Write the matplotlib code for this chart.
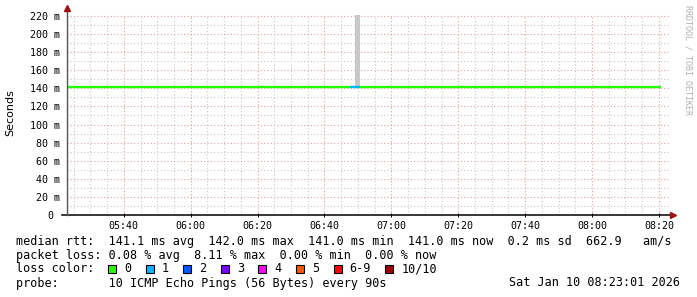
import matplotlib
matplotlib.use("Agg")
import matplotlib.pyplot as plt
from matplotlib.patches import Rectangle
from matplotlib.ticker import MultipleLocator, FuncFormatter

# ---- data ----
# step edges of the median rtt line (time of day), value and loss count per step
seg_edges = ["05:23:01", "06:46:00", "06:47:30", "06:50:30", "06:55:00", "08:20:30"]
seg_median = [141.0, 142.0, 142.0, 142.0, 141.0]   # ms
seg_loss = [0, 0, 1, 0, 0]                         # lost pings out of 10

# smoke (spread of the pings) - only one visible step
smoke_edges = ["06:49:00", "06:50:30"]
smoke_low = [142.0]
smoke_high = [260.0]

x_start, x_end = "05:23:01", "08:23:01"
y_ticks = [0, 20, 40, 60, 80, 100, 120, 140, 160, 180, 200, 220]
y_labels = ["0 "] + ["%d m" % v for v in y_ticks[1:]]

loss_labels = ["0", "1", "2", "3", "4", "5", "6-9", "10/10"]
loss_colors = ["#26ff00", "#00b8ff", "#0059ff", "#7e00ff", "#ff00ff", "#ff5500", "#ff0000", "#a10000"]

legend_rows = [
    "median rtt:  141.1 ms avg  142.0 ms max  141.0 ms min  141.0 ms now  0.2 ms sd  662.9   am/s",
    "packet loss: 0.08 % avg  8.11 % max  0.00 % min  0.00 % now",
    "loss color:",
    "probe:       10 ICMP Echo Pings (56 Bytes) every 90s",
]
stamp = "Sat Jan 10 08:23:01 2026"


def tmin(s):
    p = [int(v) for v in s.split(":")]
    return p[0] * 60 + p[1] + (p[2] / 60.0 if len(p) > 2 else 0)


W, H = 697, 297
fig = plt.figure(figsize=(W / 100, H / 100), dpi=100)
fig.patch.set_facecolor("white")
ax = fig.add_axes([67 / W, 82 / H, 602 / W, 200 / H])
mono = "DejaVu Sans Mono"

# smoke
for i in range(len(smoke_low)):
    ax.fill_between([tmin(smoke_edges[i]), tmin(smoke_edges[i + 1])], smoke_low[i], smoke_high[i],
                    color="#c8c8c8", lw=0, zorder=2)

# median line coloured by loss
for i, v in enumerate(seg_median):
    ax.hlines(v, tmin(seg_edges[i]), tmin(seg_edges[i + 1]), colors=loss_colors[seg_loss[i]],
              lw=1.7, zorder=3)

ax.set_xlim(tmin(x_start), tmin(x_end))
ax.set_ylim(0, 221.1)

ax.xaxis.set_major_locator(MultipleLocator(20))
ax.xaxis.set_minor_locator(MultipleLocator(5))
ax.xaxis.set_major_formatter(FuncFormatter(lambda v, p: "%02d:%02d" % (int(v) // 60, int(v) % 60)))
ax.set_yticks(y_ticks)
ax.set_yticklabels(y_labels)
ax.yaxis.set_minor_locator(MultipleLocator(10))

ax.grid(which="minor", color="#c8c8c8", ls=(0, (1, 2)), lw=0.8, zorder=0)
ax.grid(which="major", color="#e4a0a0", ls=(0, (1, 2)), lw=0.8, zorder=1)

ax.tick_params(axis="x", which="major", length=3, direction="inout", width=0.7, pad=3,
               labelsize=7.2, colors="black")
ax.tick_params(axis="x", which="minor", length=0)
ax.tick_params(axis="y", which="both", length=0, pad=5, labelsize=7.2)
for lab in ax.get_xticklabels() + ax.get_yticklabels():
    lab.set_family(mono)

for s in ax.spines.values():
    s.set_visible(False)

# axis lines with arrow heads
ax.plot([-5 / 602, 1.003], [0, 0], color="black", lw=1.1, transform=ax.transAxes, clip_on=False, zorder=5)
ax.plot([0, 0], [0, 1.025], color="#555555", lw=1.0, transform=ax.transAxes, clip_on=False, zorder=5)
ax.plot(1.006, 0, marker=">", ms=4, color="#a01010", transform=ax.transAxes, clip_on=False, zorder=6)
ax.plot(0, 1.033, marker="^", ms=4, color="#a01010", transform=ax.transAxes, clip_on=False, zorder=6)

fig.text(10 / W, 1 - 113 / H, "Seconds", rotation=90, ha="center", va="center", fontsize=8)
fig.text(688 / W, 1 - 5 / H, "RRDTOOL / TOBI OETIKER", rotation=270, ha="center", va="top",
         fontsize=6, family=mono, color="#b0b0b0")

# legend block
row_y = [241, 255, 269, 283]
for txt, y in zip(legend_rows, row_y):
    fig.text(16 / W, 1 - y / H, txt, family=mono, fontsize=8.5, ha="left", va="center")
fig.text(680 / W, 1 - row_y[3] / H, stamp, family=mono, fontsize=8.5, ha="right", va="center")

sx = 108
for lab, col in zip(loss_labels, loss_colors):
    fig.add_artist(Rectangle((sx / W, 1 - 273 / H), 8 / W, 8 / H, facecolor=col,
                             edgecolor="black", lw=0.8, transform=fig.transFigure))
    fig.text((sx + 16) / W, 1 - row_y[2] / H, lab, family=mono, fontsize=8.5, ha="left", va="center")
    sx += 16 + len(lab) * 7.1 + 14.5

fig.savefig("out.png", dpi=100)
